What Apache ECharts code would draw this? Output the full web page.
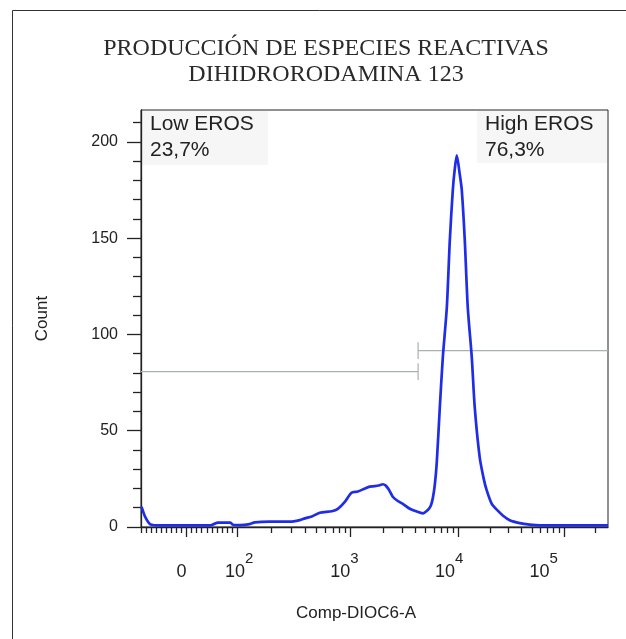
<!DOCTYPE html>
<html>
<head>
<meta charset="utf-8">
<script src="https://cdn.jsdelivr.net/npm/echarts@6/dist/echarts.min.js"></script>
<style>html,body{margin:0;padding:0;background:#fff;}#c{width:626px;height:639px;}</style>
</head>
<body>
<div id="c"></div>
<script>
// ---------- data ----------
const titleLines = ['PRODUCCIÓN DE ESPECIES REACTIVAS', 'DIHIDRORODAMINA 123'];
const xAxisName = 'Comp-DIOC6-A';
const yAxisName = 'Count';
// fluorescence intensity (Comp-DIOC6-A) and event count of the histogram
const intensity = [-90, -88, -82, -72, -63, -47, 0, 46, 54, 62, 86, 92, 106, 129, 143, 194, 292, 357, 396, 456, 536, 684, 773, 891,
  1021, 1169, 1358, 1511, 1682, 1873, 1996, 2128, 2269, 2472, 2753, 3064, 3557, 4132, 4697, 5228, 5574, 5823, 6079, 6344, 6761,
  7210, 7857, 8378, 8932, 9317, 9721, 10380, 10840, 11570, 12350, 13480, 14380, 16030, 17490, 18670, 20830, 23230, 26480, 30830,
  38330, 47680, 59260, 262144];
const counts = [10.5, 9.7, 5.4, 1.4, 0.9, 0.8, 0.8, 0.8, 1.5, 2.3, 2.3, 1.2, 1.0, 1.5, 2.4, 2.8, 2.8, 3.6, 4.5, 5.5, 7.4, 8.2, 9.4, 13,
  17.8, 18.4, 20, 21, 21.2, 21.7, 22.2, 21.5, 19.5, 15.7, 13.5, 12, 9.5, 8, 7.1, 8.8, 11, 15, 22, 34, 62,
  88, 114, 149, 175, 186, 193, 183, 175, 149, 114, 88, 62, 36, 25, 19, 12, 9, 6, 3.5,
  2, 1.2, 0.8, 0.8];
// gates
const gateNames = ['Low EROS', 'High EROS'];
const gatePercents = ['23,7%', '76,3%'];
const gateBoundary = 4250;
const gateLevels = [80.7, 91.6];
// axes
const xRange = [-90, 262144];
const yRange = [0, 216.6];
const xMajorTicks = [0, 100, 1000, 10000, 100000];
const xTickLabels = ['0', '10^2', '10^3', '10^4', '10^5'];
const xMinorTicks = [-90, -80, -70, -60, -50, -40, -30, -20, -10, 10, 20, 30, 40, 50, 60, 70, 80, 90,
  200, 300, 400, 500, 600, 700, 800, 900, 2000, 3000, 4000, 5000, 6000, 7000, 8000, 9000,
  20000, 30000, 40000, 50000, 60000, 70000, 80000, 90000, 200000];
const yMajorTicks = [0, 50, 100, 150, 200];
const yMinorTicks = [10, 20, 30, 40, 60, 70, 80, 90, 110, 120, 130, 140, 160, 170, 180, 190, 210];

// ---------- biexponential-like display transform ----------
const decadePos = {2: 50.6, 3: 164.0, 4: 271.6, 5: 377.3};
const linSlope = 0.506, topDecadeWidth = 105.7;
function T(v) {
  if (v < 100) return v * linSlope;
  const k = Math.log10(v);
  const i = Math.min(Math.floor(k), 5);
  const w = i < 5 ? decadePos[i + 1] - decadePos[i] : topDecadeWidth;
  return decadePos[i] + (k - i) * w;
}

const chart = echarts.init(document.getElementById('c'), null, {renderer: 'canvas'});
const curve = intensity.map((v, i) => [T(v), counts[i]]);
const gTick = 4.3;
const gateLow = [[T(xRange[0]), gateLevels[0]], [T(gateBoundary), gateLevels[0]]];
const gateLowEnd = [[T(gateBoundary), gateLevels[0] - gTick], [T(gateBoundary), gateLevels[0] + gTick]];
const gateHigh = [[T(gateBoundary), gateLevels[1]], [T(xRange[1]), gateLevels[1]]];
const gateHighEnd = [[T(gateBoundary), gateLevels[1] - gTick], [T(gateBoundary), gateLevels[1] + gTick]];

const labelShift = [5, -2, 6, 9, 20];
const rich = {
  b: {fontSize: 18, fontFamily: 'Liberation Sans', color: '#222', verticalAlign: 'bottom', lineHeight: 18},
  s: {fontSize: 15, fontFamily: 'Liberation Sans', color: '#222', verticalAlign: 'top', lineHeight: 15}
};
labelShift.forEach((s, i) => { rich['g' + i] = {width: Math.abs(s) * 2, lineHeight: 30, fontSize: 2}; });
function fmtX(val) {
  let best = 0, d = Infinity;
  xMajorTicks.forEach((t, i) => { const dd = Math.abs(T(t) - val); if (dd < d) { d = dd; best = i; } });
  const lab = xTickLabels[best];
  let body;
  if (lab.indexOf('^') >= 0) { const p = lab.split('^'); body = '{b|' + p[0] + '}{s|' + p[1] + '}'; }
  else body = '{b|' + lab + '}';
  const sp = '{g' + best + '| }';
  return labelShift[best] >= 0 ? body + sp : sp + body;
}

const axisColor = '#222';
const gateColor = '#a9b1b1';
const lineSer = (data, color, width, z) => ({type: 'line', data, symbol: 'none', silent: true, z,
  lineStyle: {color, width}, animation: false});

chart.setOption({
  animation: false,
  backgroundColor: '#fff',
  grid: {left: 141, top: 110, right: 18, bottom: 112, show: true, borderColor: axisColor, borderWidth: 1, backgroundColor: 'transparent'},
  xAxis: [{
    type: 'value', min: T(xRange[0]), max: T(xRange[1]), position: 'bottom',
    axisLine: {show: true, onZero: false, lineStyle: {color: axisColor, width: 1.3}},
    axisTick: {show: true, length: 10, customValues: xMajorTicks.map(T), lineStyle: {color: axisColor, width: 1.3}},
    axisLabel: {show: true, customValues: xMajorTicks.map(T), margin: 24, formatter: fmtX, rich: rich},
    splitLine: {show: false}
  }, {
    type: 'value', min: T(xRange[0]), max: T(xRange[1]), position: 'bottom',
    axisLine: {show: false, onZero: false},
    axisTick: {show: true, length: 6, customValues: xMinorTicks.map(T), lineStyle: {color: axisColor, width: 1.3}},
    axisLabel: {show: false}, splitLine: {show: false}
  }],
  yAxis: [{
    type: 'value', min: yRange[0], max: yRange[1], position: 'left',
    name: yAxisName, nameLocation: 'middle', nameGap: 90, nameRotate: 90,
    nameTextStyle: {fontFamily: 'Liberation Sans', fontSize: 17, color: '#222'},
    axisLine: {show: true, onZero: false, lineStyle: {color: axisColor, width: 1.3}},
    axisTick: {show: true, length: 14, customValues: yMajorTicks, lineStyle: {color: axisColor, width: 1.3}},
    axisLabel: {show: true, customValues: yMajorTicks, margin: 23, fontFamily: 'Liberation Sans', fontSize: 16, color: '#222'},
    splitLine: {show: false}
  }, {
    type: 'value', min: yRange[0], max: yRange[1], position: 'left',
    axisLine: {show: false, onZero: false},
    axisTick: {show: true, length: 8, customValues: yMinorTicks, lineStyle: {color: axisColor, width: 1.3}},
    axisLabel: {show: false}, splitLine: {show: false}
  }],
  series: [
    lineSer(gateLow, gateColor, 1.2, 2),
    lineSer(gateLowEnd, gateColor, 1.2, 2),
    lineSer(gateHigh, gateColor, 1.2, 2),
    lineSer(gateHighEnd, gateColor, 1.2, 2),
    Object.assign(lineSer(curve, '#1f2de6', 2.7, 5), {smooth: 0.25})
  ],
  graphic: [
    {type: 'rect', silent: true, z: -10, shape: {x: 12.5, y: 10.5, width: 800, height: 800}, style: {fill: 'none', stroke: '#333', lineWidth: 1}},
    {type: 'rect', silent: true, z: -5, shape: {x: 142, y: 111, width: 126, height: 54}, style: {fill: '#f6f6f6'}},
    {type: 'rect', silent: true, z: -5, shape: {x: 477, y: 111, width: 130, height: 52}, style: {fill: '#f6f6f6'}},
    {type: 'text', x: 326, y: 49, style: {text: titleLines[0], fontFamily: 'Liberation Serif', fontSize: 24, fill: '#2a2a2a', align: 'center', verticalAlign: 'middle'}},
    {type: 'text', x: 326, y: 75, style: {text: titleLines[1], fontFamily: 'Liberation Serif', fontSize: 24, fill: '#2a2a2a', align: 'center', verticalAlign: 'middle'}},
    {type: 'text', x: 150, y: 124, style: {text: gateNames[0], fontFamily: 'Liberation Sans', fontSize: 21, fill: '#222', align: 'left', verticalAlign: 'middle'}},
    {type: 'text', x: 150, y: 150, style: {text: gatePercents[0], fontFamily: 'Liberation Sans', fontSize: 21, fill: '#222', align: 'left', verticalAlign: 'middle'}},
    {type: 'text', x: 485, y: 124, style: {text: gateNames[1], fontFamily: 'Liberation Sans', fontSize: 21, fill: '#222', align: 'left', verticalAlign: 'middle'}},
    {type: 'text', x: 485, y: 150, style: {text: gatePercents[1], fontFamily: 'Liberation Sans', fontSize: 21, fill: '#222', align: 'left', verticalAlign: 'middle'}},
    {type: 'text', x: 356, y: 613, style: {text: xAxisName, fontFamily: 'Liberation Sans', fontSize: 17, fill: '#222', align: 'center', verticalAlign: 'middle'}}
  ]
});
</script>
</body>
</html>
